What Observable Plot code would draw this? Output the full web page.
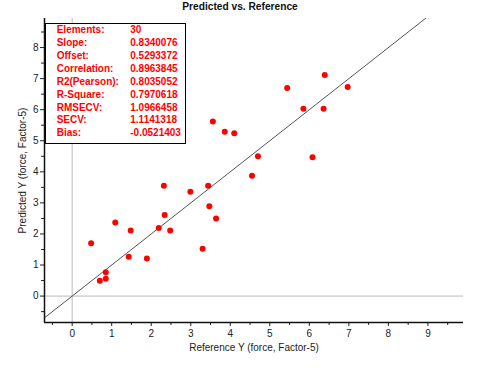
<!DOCTYPE html>
<html>
<head>
<meta charset="utf-8">
<script src="https://cdn.jsdelivr.net/npm/d3@7"></script>
<script src="https://cdn.jsdelivr.net/npm/@observablehq/plot@0.6"></script>
<style>
  html, body { margin: 0; padding: 0; background: #fff; }
  body { width: 480px; height: 368px; overflow: hidden; font-family: "Liberation Sans", Arial, sans-serif; }
  #wrap { position: relative; width: 480px; height: 368px; }
  #title { height: 14px; line-height: 13px; font-size: 10.2px; font-weight: bold; text-align: center; color: #111; }
  #stats { position: absolute; left: 45px; top: 22.7px; width: 141px; height: 121px; box-sizing: border-box;
           border: 1px solid #000; background: #fff; padding: 0.5px 0 0 10.7px; }
  #stats .row { position: relative; height: 12.9px; line-height: 12.9px; font-size: 10px; font-weight: bold; color: #ff0000; white-space: nowrap; }
  #stats .val { position: absolute; left: 73.6px; top: 0; }
  svg { display: block; }
</style>
</head>
<body>
<div id="wrap">
  <div id="title"></div>
  <div id="chart"></div>
  <div id="stats"></div>
</div>
<script>
const titleText = "Predicted vs. Reference";
const xLabel = "Reference Y (force, Factor-5)";
const yLabel = "Predicted Y (force, Factor-5)";

// Reference Y (x) and Predicted Y (y) for each sample
const referenceY = [3.56, 3.86, 4.10, 5.44, 6.39, 6.97, 5.85, 6.36, 4.70, 6.08, 4.55, 2.32, 2.99, 3.44,
                    3.47, 3.64, 2.34, 1.09, 1.48, 2.19, 2.48, 0.48, 3.30, 1.43, 1.89, 0.85, 0.70, 0.85];
const predictedY = [5.62, 5.29, 5.24, 6.70, 7.12, 6.73, 6.03, 6.03, 4.50, 4.47, 3.87, 3.55, 3.36, 3.55,
                    2.89, 2.50, 2.61, 2.37, 2.11, 2.19, 2.11, 1.70, 1.52, 1.27, 1.21, 0.77, 0.49, 0.56];

const statLabels = ["Elements:", "Slope:", "Offset:", "Correlation:", "R2(Pearson):", "R-Square:", "RMSECV:", "SECV:", "Bias:"];
const statValues = ["30", "0.8340076", "0.5293372", "0.8963845", "0.8035052", "0.7970618", "1.0966458", "1.1141318", "-0.0521403"];

const xTicks = [0, 1, 2, 3, 4, 5, 6, 7, 8, 9];
const yTicks = [0, 1, 2, 3, 4, 5, 6, 7, 8];
const xDomain = [-0.7, 9.9];
const yDomain = [-0.85, 8.935];

document.getElementById("title").textContent = titleText;

const points = referenceY.map((x, i) => ({x, y: predictedY[i]}));
const identity = [{x: xDomain[0], y: xDomain[0]}, {x: xDomain[1], y: xDomain[1]}];
const xMinor = d3.range(xDomain[0] < -0.5 ? -0.5 : 0.5, xDomain[1], 0.5).filter(v => v % 1 !== 0);
const yMinor = d3.range(-0.5, yDomain[1], 0.5).filter(v => v % 1 !== 0);

const chart = Plot.plot({
  width: 480,
  height: 354,
  marginLeft: 44,
  marginRight: 17,
  marginTop: 4,
  marginBottom: 46,
  style: {fontFamily: "'Liberation Sans', Arial, sans-serif", fontSize: "10px", color: "#222", background: "#fff"},
  x: {domain: xDomain},
  y: {domain: yDomain},
  marks: [
    Plot.ruleX([0], {stroke: "#bbb", strokeWidth: 1}),
    Plot.ruleY([0], {stroke: "#bbb", strokeWidth: 1}),
    Plot.line(identity, {x: "x", y: "y", stroke: "#555", strokeWidth: 1, clip: true}),
    Plot.dot(points, {x: "x", y: "y", r: 3, fill: "#ff0000", stroke: "none"}),
    Plot.axisX({ticks: xTicks, tickSize: 4, tickPadding: 3, label: xLabel, labelAnchor: "center", labelArrow: "none", labelOffset: 28}),
    Plot.axisX({ticks: xMinor, tickSize: 3, text: null, label: null}),
    Plot.axisY({ticks: yTicks, tickSize: 4, tickPadding: 2, label: yLabel, labelAnchor: "center", labelArrow: "none", labelOffset: 26}),
    Plot.axisY({ticks: yMinor, tickSize: 3, text: null, label: null}),
    Plot.ruleX([xDomain[0]], {stroke: "#111", strokeWidth: 1.5}),
    Plot.ruleY([yDomain[0]], {stroke: "#111", strokeWidth: 1.5})
  ]
});
document.getElementById("chart").appendChild(chart);

const stats = d3.select("#stats");
statLabels.forEach((lab, i) => {
  const row = stats.append("div").attr("class", "row");
  row.append("span").text(lab);
  row.append("span").attr("class", "val").text(statValues[i]);
});
</script>
</body>
</html>
